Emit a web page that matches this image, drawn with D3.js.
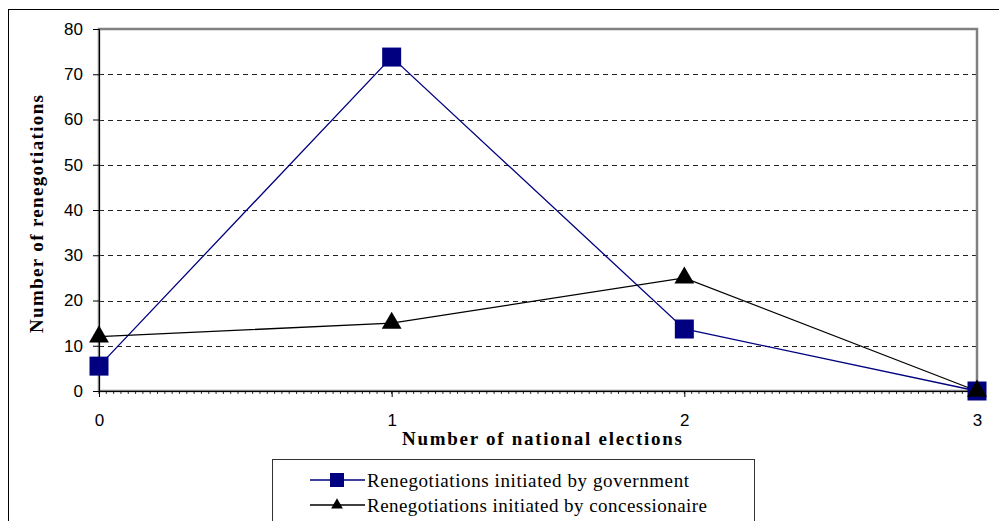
<!DOCTYPE html>
<html>
<head>
<meta charset="utf-8">
<script src="https://cdn.jsdelivr.net/npm/d3@7"></script>
<style>
  body { margin: 0; background: #fff; }
  svg { display: block; }
  .sans { font-family: "Liberation Sans", Arial, sans-serif; font-size: 17px; }
  .serif { font-family: "Liberation Serif", "Times New Roman", serif; font-size: 19px; }
</style>
</head>
<body>
<svg id="chart" width="999" height="521"></svg>
<script>
// data
var elections = [0, 1, 2, 3];
var govtValues = [5.5, 73.8, 13.7, 0];
var concValues = [12, 15, 25, 0];
var yTicks = [0, 10, 20, 30, 40, 50, 60, 70, 80];
var seriesNames = ['Renegotiations initiated by government', 'Renegotiations initiated by concessionaire'];

var svg = d3.select('#chart');

// STEP 1: frames
svg.append('rect')
    .attr('x', 8.5).attr('y', 9.5)
    .attr('width', 1100).attr('height', 600)
    .attr('fill', 'none').attr('stroke', '#000').attr('stroke-width', 1);

var x = d3.scaleLinear().domain([0, 3]).range([99, 977]);
var y = d3.scaleLinear().domain([0, 80]).range([391, 29]);

// gridlines (dashed)
svg.append('g')
    .selectAll('line')
    .data(yTicks.filter(d => d > 0 && d < 80))
    .enter()
    .append('line')
        .attr('x1', x(0)).attr('x2', x(3))
        .attr('y1', d => Math.round(y(d)) + 0.5)
        .attr('y2', d => Math.round(y(d)) + 0.5)
        .attr('stroke', '#222')
        .attr('stroke-dasharray', '5,4');

// gray plot border
svg.append('rect')
    .attr('x', x(0)).attr('y', y(80))
    .attr('width', x(3) - x(0)).attr('height', y(0) - y(80))
    .attr('fill', 'none').attr('stroke', '#808080').attr('stroke-width', 2.5);

// STEP 2: axes
var yAxis = d3.axisLeft(y).tickValues(yTicks).tickSize(6).tickPadding(10);
var gy = svg.append('g')
    .attr('transform', 'translate(' + x(0) + ',0)')
    .call(yAxis)
    .attr('font-size', null).attr('font-family', null);
gy.select('.domain').attr('stroke', '#000');
gy.selectAll('text').attr('class', 'sans').attr('fill', '#000');

// minor ticks on the x axis
svg.append('g')
    .selectAll('line')
    .data(d3.range(0, 3.0001, 0.025))
    .enter()
    .append('line')
        .attr('x1', d => x(d)).attr('x2', d => x(d))
        .attr('y1', y(0)).attr('y2', y(0) + 3)
        .attr('stroke', '#000').attr('stroke-width', 0.8);

var xAxis = d3.axisBottom(x).tickValues(elections).tickFormat(d3.format('d')).tickSize(6).tickPadding(17);
var gx = svg.append('g')
    .attr('transform', 'translate(0,' + y(0) + ')')
    .call(xAxis)
    .attr('font-size', null).attr('font-family', null);
gx.select('.domain').attr('stroke', '#000');
gx.selectAll('text').attr('class', 'sans').attr('fill', '#000');

// axis titles (the original is set a little wide)
svg.append('text')
    .attr('class', 'serif')
    .attr('x', 542).attr('y', 444.5)
    .attr('text-anchor', 'middle')
    .attr('textLength', 280).attr('lengthAdjust', 'spacing')
    .style('font-weight', 'bold')
    .text('Number of national elections');

svg.append('text')
    .attr('class', 'serif')
    .attr('transform', 'translate(43,214) rotate(-90)')
    .attr('text-anchor', 'middle')
    .attr('textLength', 238).attr('lengthAdjust', 'spacing')
    .style('font-weight', 'bold')
    .text('Number of renegotiations');

// STEP 3: series
var line = d3.line().x((d, i) => x(elections[i])).y(d => y(d));

svg.append('path')
    .datum(govtValues)
    .attr('d', line)
    .attr('fill', 'none').attr('stroke', '#000080').attr('stroke-width', 1.3);

svg.append('path')
    .datum(concValues)
    .attr('d', line)
    .attr('fill', 'none').attr('stroke', '#000').attr('stroke-width', 1.3);

var sq = d3.symbol().type(d3.symbolSquare).size(19 * 19);
var tri = d3.symbol().type(d3.symbolTriangle).size(170);

svg.append('g')
    .selectAll('path')
    .data(govtValues)
    .enter()
    .append('path')
        .attr('d', sq)
        .attr('transform', (d, i) => 'translate(' + x(elections[i]) + ',' + y(d) + ')')
        .attr('fill', '#000080');

svg.append('g')
    .selectAll('path')
    .data(concValues)
    .enter()
    .append('path')
        .attr('d', tri)
        .attr('transform', (d, i) => 'translate(' + x(elections[i]) + ',' + y(d) + ')')
        .attr('fill', '#000');

// STEP 4: legend
var legend = svg.append('g');
legend.append('rect')
    .attr('x', 272.5).attr('y', 459.5)
    .attr('width', 482).attr('height', 100)
    .attr('fill', '#fff').attr('stroke', '#333').attr('stroke-width', 1);

var legendWidths = [322, 340];

var rows = legend.selectAll('g.row')
    .data(seriesNames)
    .enter()
    .append('g')
        .attr('class', 'row')
        .attr('transform', (d, i) => 'translate(0,' + (480 + i * 25) + ')');

rows.append('line')
    .attr('x1', 310).attr('x2', 365)
    .attr('stroke', (d, i) => i === 0 ? '#000080' : '#000')
    .attr('stroke-width', 1.3);

rows.append('path')
    .attr('d', (d, i) => i === 0 ? d3.symbol().type(d3.symbolSquare).size(14 * 14)() : d3.symbol().type(d3.symbolTriangle).size(60)())
    .attr('transform', 'translate(337,0)')
    .attr('fill', (d, i) => i === 0 ? '#000080' : '#000');

rows.append('text')
    .attr('class', 'serif')
    .attr('x', 367).attr('dy', '0.35em')
    .attr('textLength', (d, i) => legendWidths[i]).attr('lengthAdjust', 'spacing')
    .text(d => d);
</script>
</body>
</html>
